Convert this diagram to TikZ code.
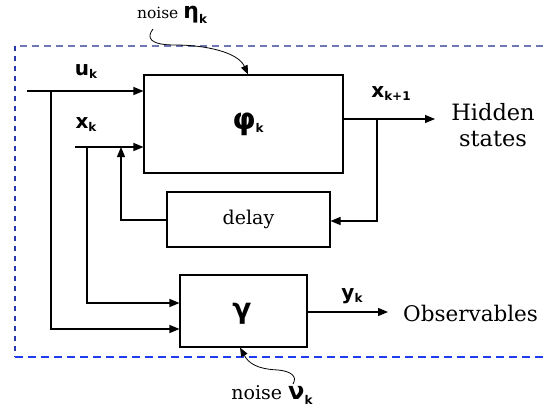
\documentclass[tikz,border=0pt]{standalone}
\usepackage{fontspec}
\setmainfont{DejaVu Serif}
\newfontfamily\labf{DejaVu Sans}
\usetikzlibrary{arrows.meta}
\newcommand{\vlab}[3][20]{{\labf\bfseries\fontsize{#1}{#1}\selectfont #2}\raisebox{-0.3em}{\labf\bfseries\fontsize{12}{12}\selectfont #3}}
\definecolor{dtop}{RGB}{110,120,185}
\definecolor{dleft}{RGB}{40,55,170}
\definecolor{dbot}{RGB}{30,60,240}
\tikzset{
  blk/.style={draw, line width=1.1pt, inner sep=0pt, anchor=center},
  ln/.style={line width=1.1pt},
  arr/.style={line width=1.1pt, -{Triangle[length=10pt,width=8pt]}},
  narr/.style={line width=0.8pt, -{Triangle[length=9pt,width=7pt]}},
  txt/.style={font=\fontsize{21.5}{26}\selectfont, align=center, inner sep=0pt},
  vl/.style={inner sep=0pt, anchor=center}
}
\begin{document}
\begin{tikzpicture}[x=1pt,y=-1pt]
\useasboundingbox (0,0) rectangle (545,414);
% dashed frame
\coordinate (tl) at (15,46);
\coordinate (tr) at (543,46);
\coordinate (bl) at (15,357);
\coordinate (br) at (543,357);
\draw[dtop, line width=1.2pt, dash pattern=on 7pt off 5pt] (tr) -- (tl);
\draw[dleft, line width=1.2pt, dash pattern=on 5pt off 5pt] (tl) -- (bl);
\draw[dbot, line width=1.5pt, dash pattern=on 8pt off 5pt] (bl) -- (br);

% blocks
\node[blk, minimum width=199pt, minimum height=98pt] (phi) at (243.5,124) {};
\node[vl] (phil) at (248,124) {\vlab[30]{φ}{k}};
\node[blk, minimum width=163pt, minimum height=55pt, txt] (delay) at (248.5,219.5) {\fontsize{19}{22}\selectfont delay};
\node[blk, minimum width=127pt, minimum height=72pt] (gamma) at (243.5,311) {};
\node[vl] (gl) at (242,314) {\vlab[28]{γ}{}};

% inputs
\coordinate (uin) at (27,91);
\coordinate (ub) at (51,91);
\coordinate (ug) at (51,329);
\coordinate (xin) at (75,147);
\coordinate (xb) at (87,147);
\coordinate (xg) at (87,303);
\draw[arr] (uin) -- (uin -| phi.west);
\draw[arr] (ub) -- (ug) -- (ug -| gamma.west);
\draw[arr] (xin) -- (xin -| phi.west);
\draw[arr] (xb) -- (xg) -- (xg -| gamma.west);

% output of phi
\coordinate (po) at (343,119);
\coordinate (xo) at (435,119);
\coordinate (fb) at (377,119);
\coordinate (fd) at (377,221);
\draw[arr] (po) -- (xo);
\draw[arr] (fb) -- (fd) -- (fd -| delay.east);

% delay back to phi input
\coordinate (dl) at (121,220);
\coordinate (du) at (121,147);
\draw[arr] (dl -| delay.west) -- (dl) -- (du);

% gamma output
\coordinate (go) at (388,312);
\draw[arr] (go -| gamma.east) -- (go);

% noise curves
\coordinate (n1) at (153,29);
\draw[narr] (n1) .. controls (146,38) and (150,45) .. (175,45)
  .. controls (205,45) and (238,52) .. ([xshift=4.5pt]phi.north);
\coordinate (n2) at (293,384);
\draw[narr] (n2) .. controls (298,376) and (290,371) .. (278,370)
  .. controls (255,369) and (248,362) .. ([xshift=-3.5pt]gamma.south);

% labels
\node[vl] (ul) at (86,72) {\vlab{u}{k}};
\node[vl] (xl) at (86,125) {\vlab{x}{k}};
\node[vl] (xkl) at (391,94) {\vlab{x}{k+1}};
\node[vl] (yl) at (352,296) {\vlab{y}{k}};
\node[txt, font=\fontsize{22.5}{26}\selectfont] (hid) at (493,125) {Hidden\\ states};
\node[txt, anchor=west] (obs) at (403,313) {Observables};
\node[vl] (nt) at (172,15) {\fontsize{15.5}{18}\selectfont noise \vlab[22]{η}{k}};
\node[vl] (nb) at (272,395) {\fontsize{19}{22}\selectfont noise \vlab[24]{ν}{k}};
\end{tikzpicture}
\end{document}
